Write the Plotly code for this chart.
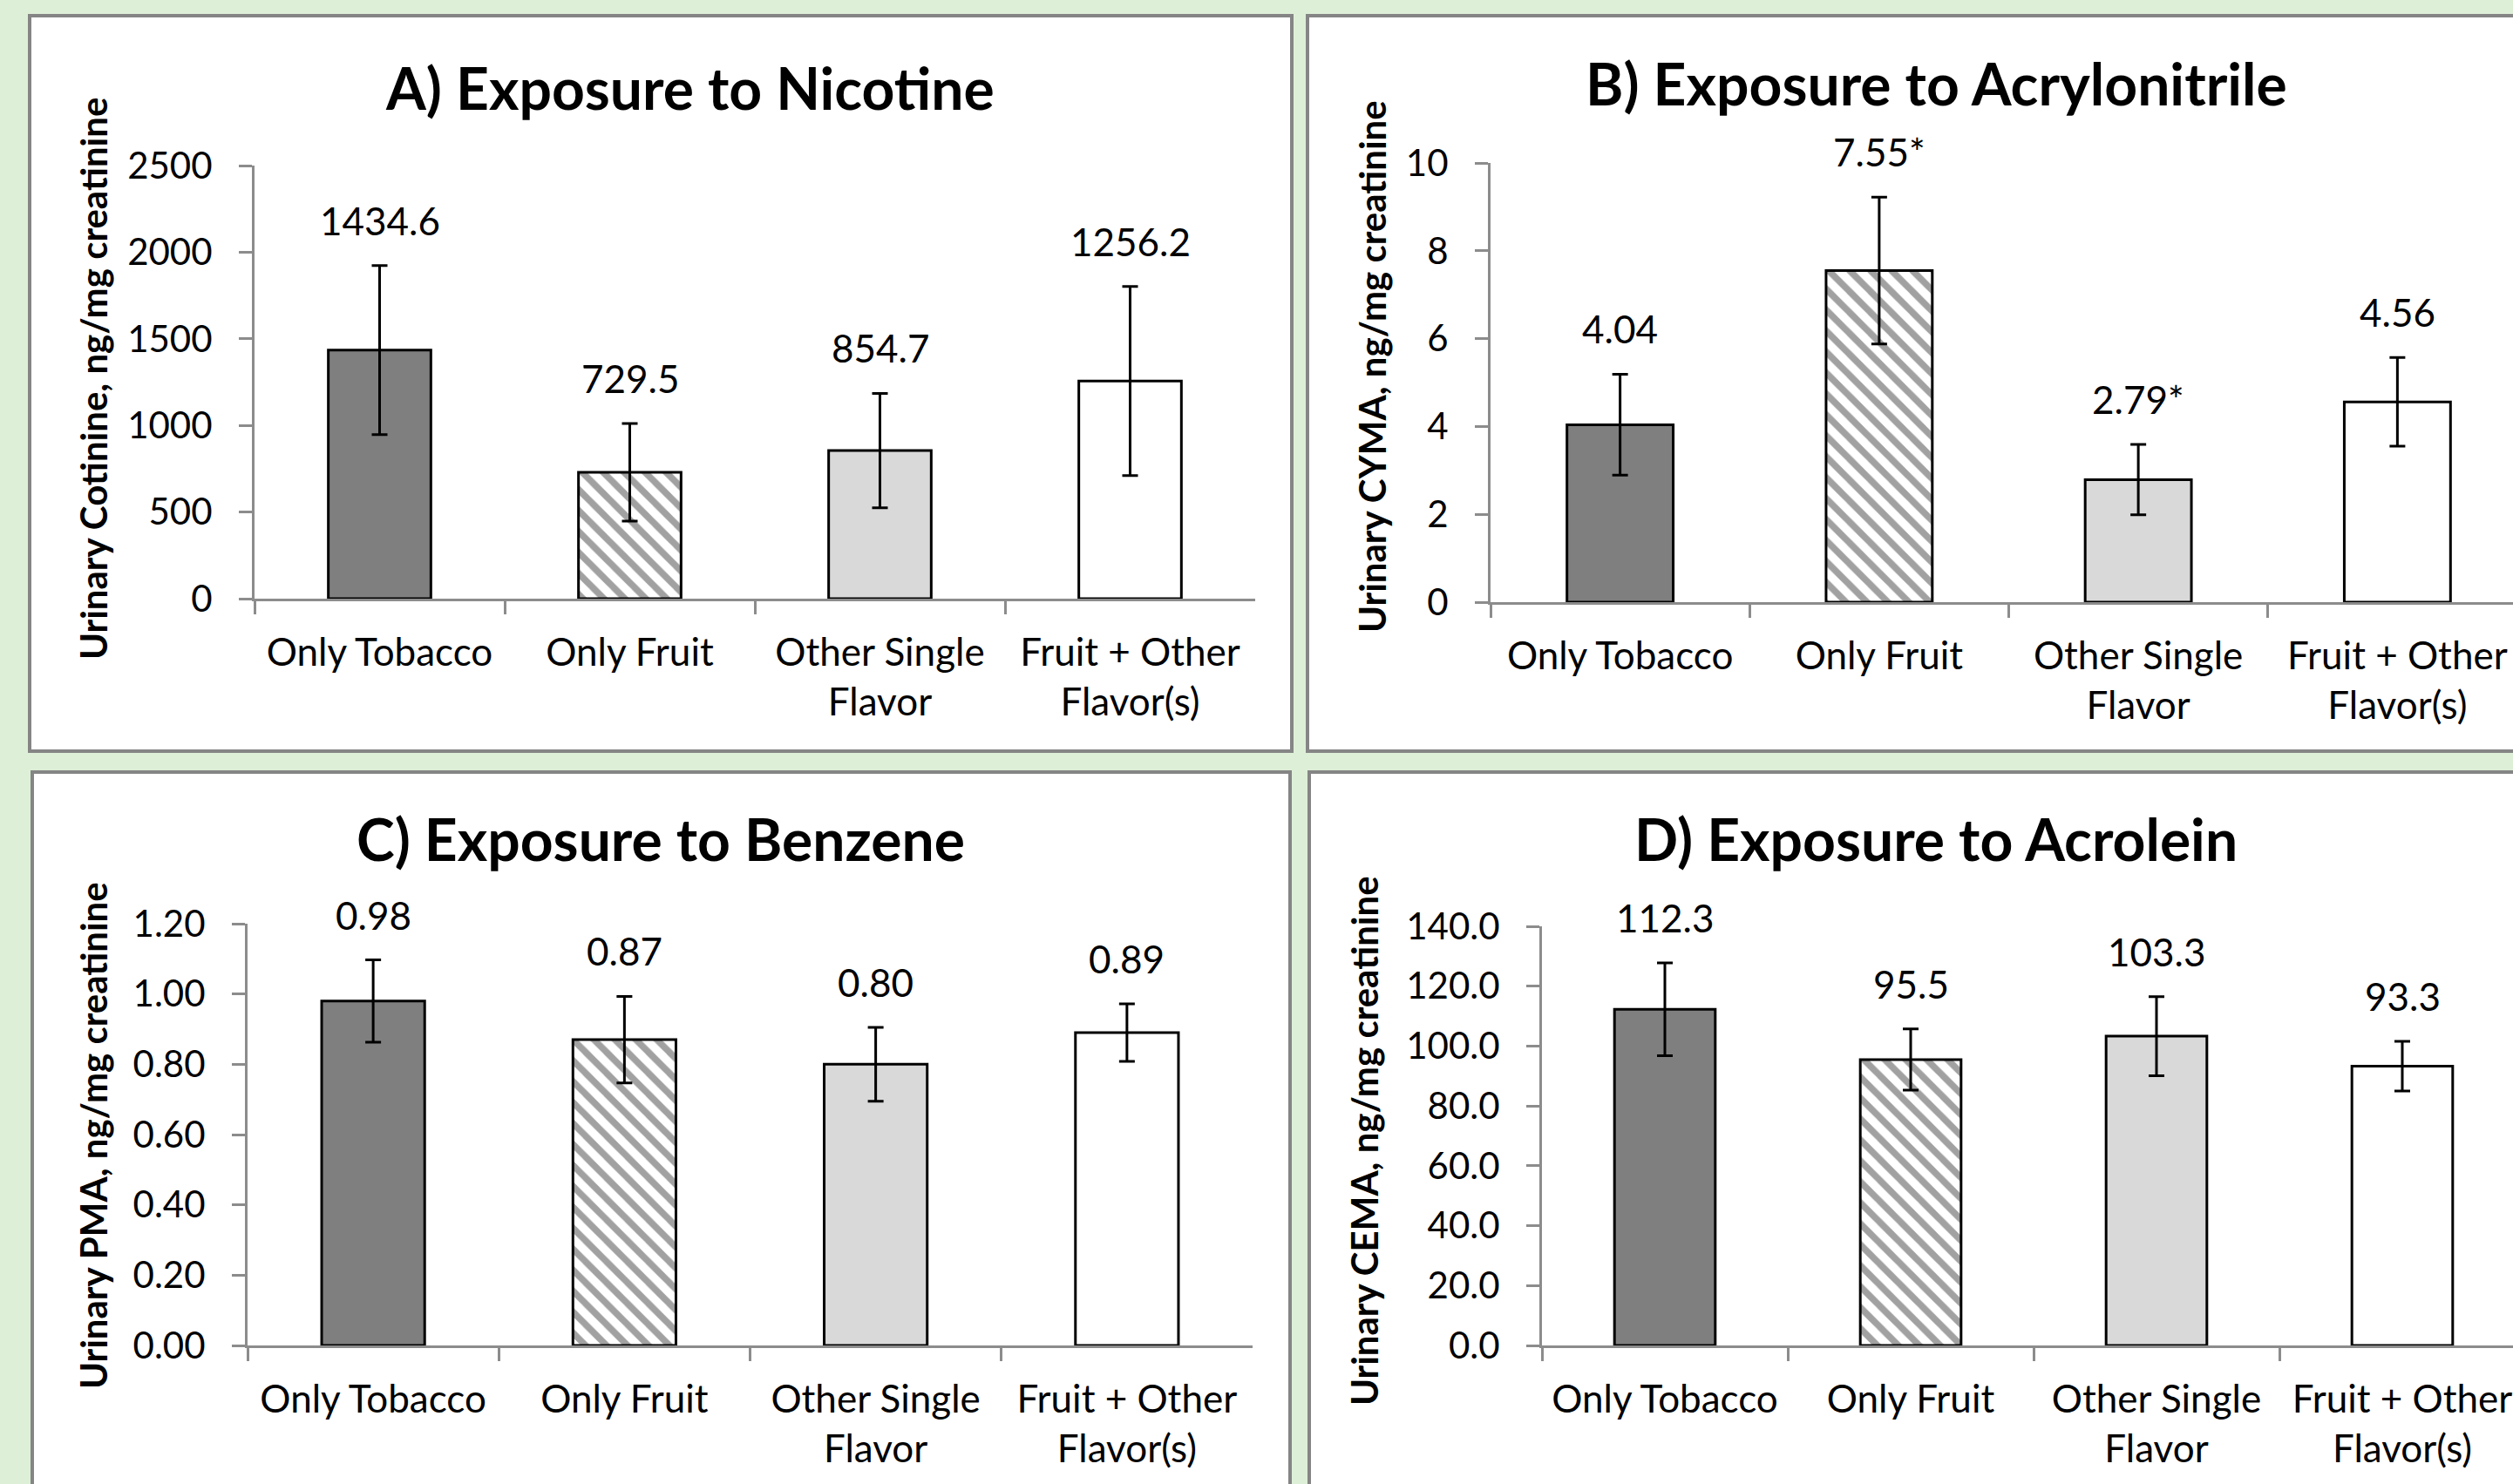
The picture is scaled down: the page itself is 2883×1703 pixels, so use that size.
import plotly.graph_objects as go

W, H = 2883, 1703

categories = ["Only Tobacco", "Only Fruit", "Other Single<br>Flavor", "Fruit + Other<br>Flavor(s)"]

# Panel A: Nicotine (urinary cotinine)
nic_vals = [1434.6, 729.5, 854.7, 1256.2]
nic_err = [488, 282, 330, 546]
# Panel B: Acrylonitrile (CYMA)
acr_vals = [4.04, 7.55, 2.79, 4.56]
acr_err = [1.15, 1.67, 0.80, 1.01]
acr_sig = ["", "*", "*", ""]
# Panel C: Benzene (PMA)
ben_vals = [0.98, 0.87, 0.80, 0.89]
ben_err = [0.117, 0.123, 0.105, 0.082]
# Panel D: Acrolein (CEMA)
acl_vals = [112.3, 95.5, 103.3, 93.3]
acl_err = [15.5, 10.2, 13.2, 8.3]

panels = [
    dict(title="A) Exposure to Nicotine", ytitle="Urinary Cotinine, ng/mg creatinine",
         vals=nic_vals, err=nic_err, sig=["", "", "", ""], fmt="{:.1f}",
         yrange=[0, 2500], dtick=500, tickformat="d",
         px=(292, 1440), py=(190, 687), xmax=3.5,
         frame=(34, 18, 1482, 862), tpos=(791, 101), ytpos=(107, 435)),
    dict(title="B) Exposure to Acrylonitrile", ytitle="Urinary CYMA, ng/mg creatinine",
         vals=acr_vals, err=acr_err, sig=acr_sig, fmt="{:.2f}",
         yrange=[0, 10], dtick=2, tickformat="d",
         px=(1710, W), py=(187, 691), xmax=-0.5 + (W - 1710) / 297.25,
         frame=(1500, 18, W + 40, 862), tpos=(2221, 96), ytpos=(1574, 421)),
    dict(title="C) Exposure to Benzene", ytitle="Urinary PMA, ng/mg creatinine",
         vals=ben_vals, err=ben_err, sig=["", "", "", ""], fmt="{:.2f}",
         yrange=[0, 1.2], dtick=0.2, tickformat=".2f",
         px=(284, 1437), py=(1060, 1544), xmax=3.5,
         frame=(37, 886, 1480, H + 40), tpos=(758, 962), ytpos=(107, 1303)),
    dict(title="D) Exposure to Acrolein", ytitle="Urinary CEMA, ng/mg creatinine",
         vals=acl_vals, err=acl_err, sig=["", "", "", ""], fmt="{:.1f}",
         yrange=[0, 140], dtick=20, tickformat=".1f",
         px=(1769, W), py=(1063, 1544), xmax=-0.5 + (W - 1769) / 282.0,
         frame=(1502, 886, W + 40, H + 40), tpos=(2221, 962), ytpos=(1565, 1309)),
]

bar_colors = ["#7f7f7f", "#ffffff", "#d9d9d9", "#ffffff"]
bar_patterns = ["", "\\", "", ""]

FONT = "Lato, Carlito, Calibri, sans-serif"
AXIS_GRAY = "#8c8c8c"
BG = "#deefd8"

def fx(p):
    return p / W

def fy(p):
    return 1 - p / H

fig = go.Figure()
shapes = []
annotations = []
layout_axes = {}

for i, p in enumerate(panels):
    n = "" if i == 0 else str(i + 1)
    xa, ya = "x" + n, "y" + n
    fig.add_trace(go.Bar(
        x=categories, y=p["vals"], xaxis=xa, yaxis=ya,
        marker=dict(color=bar_colors, line=dict(color="black", width=3),
                    pattern=dict(shape=bar_patterns, fgcolor="#6e6e6e", size=17,
                                 solidity=0.45, fillmode="overlay")),
        error_y=dict(type="data", array=p["err"], visible=True, color="black",
                     thickness=3, width=9),
        showlegend=False, hoverinfo="skip",
    ))
    x0, x1 = p["px"]
    y0, y1 = p["py"]
    layout_axes["xaxis" + n] = dict(
        domain=[fx(x0), min(1.0, fx(x1))], anchor=ya, type="category",
        range=[-0.5, p["xmax"]], tickson="boundaries", ticks="outside",
        ticklen=15, tickwidth=3, tickcolor=AXIS_GRAY, showline=True,
        linecolor=AXIS_GRAY, linewidth=3, showgrid=False, zeroline=False,
        tickfont=dict(family=FONT, size=44, color="black"),
        ticklabelstandoff=21, fixedrange=True, automargin=False,
    )
    layout_axes["yaxis" + n] = dict(
        domain=[fy(y1), fy(y0)], anchor=xa, range=p["yrange"], dtick=p["dtick"],
        tickformat=p["tickformat"], ticks="outside", ticklen=15, tickwidth=3,
        tickcolor=AXIS_GRAY, showline=True, linecolor=AXIS_GRAY, linewidth=3,
        showgrid=False, zeroline=False,
        tickfont=dict(family=FONT, size=42, color="black"),
        ticklabelstandoff=22, fixedrange=True, automargin=False,
    )
    fx0, fy0, fx1, fy1 = p["frame"]
    shapes.append(dict(type="rect", xref="paper", yref="paper",
                       x0=fx(fx0), x1=fx(fx1), y0=fy(fy1), y1=fy(fy0),
                       fillcolor="white", line=dict(color="#858585", width=4),
                       layer="below"))
    annotations.append(dict(text="<b>" + p["title"] + "</b>", xref="paper", yref="paper",
                            x=fx(p["tpos"][0]), y=fy(p["tpos"][1]),
                            xanchor="center", yanchor="middle", showarrow=False,
                            font=dict(family=FONT, size=66, color="black")))
    annotations.append(dict(text="<b>" + p["ytitle"] + "</b>", xref="paper", yref="paper",
                            x=fx(p["ytpos"][0]), y=fy(p["ytpos"][1]), textangle=-90,
                            xanchor="center", yanchor="middle", showarrow=False,
                            font=dict(family=FONT, size=42, color="black")))
    for c, v, e, s in zip(categories, p["vals"], p["err"], p["sig"]):
        annotations.append(dict(text=p["fmt"].format(v) + s, xref=xa, yref=ya,
                                x=c, y=v + e, xanchor="center", yanchor="middle",
                                yshift=52, showarrow=False,
                                font=dict(family=FONT, size=44, color="black")))

fig.update_layout(
    template=None,
    width=W, height=H, margin=dict(l=0, r=0, t=0, b=0, pad=0),
    paper_bgcolor=BG, plot_bgcolor="rgba(0,0,0,0)",
    bargap=0.59, shapes=shapes, annotations=annotations,
    font=dict(family=FONT, color="black"),
    **layout_axes,
)

fig.write_html(
    "out.html",
    config={"displayModeBar": False, "staticPlot": True},
    post_script="document.body.style.margin='0';document.body.style.overflow='hidden';"
                "document.body.style.background='" + BG + "';",
)
